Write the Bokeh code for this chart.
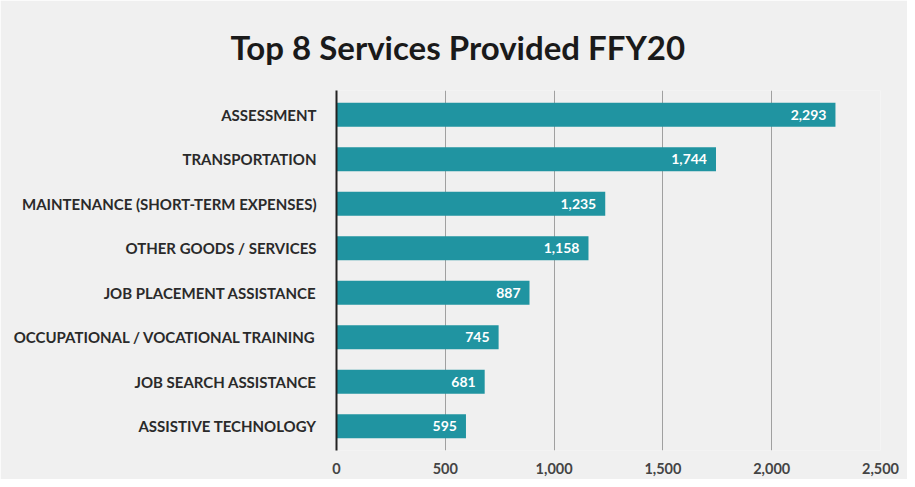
from bokeh.plotting import figure
from bokeh.models import ColumnDataSource, NumeralTickFormatter, FixedTicker, Range1d
from bokeh.embed import file_html
from bokeh.resources import INLINE
from bokeh.core.properties import value

categories = [
    "ASSESSMENT",
    "TRANSPORTATION",
    "MAINTENANCE (SHORT-TERM EXPENSES)",
    "OTHER GOODS / SERVICES",
    "JOB PLACEMENT ASSISTANCE",
    "OCCUPATIONAL / VOCATIONAL TRAINING",
    "JOB SEARCH ASSISTANCE",
    "ASSISTIVE TECHNOLOGY",
]
counts = [2293, 1744, 1235, 1158, 887, 745, 681, 595]
x_ticks = [0, 500, 1000, 1500, 2000, 2500]

labels = [f"{v:,}" for v in counts]
source = ColumnDataSource(dict(cat=categories, val=counts, lab=labels))

BG = "#f0f0f0"
FONT = "Lato"

p = figure(
    width=907, height=479,
    y_range=list(reversed(categories)),
    x_range=Range1d(0, 2500),
    output_backend="svg", toolbar_location=None,
    title="Top 8 Services Provided FFY20",
    min_border_left=336, min_border_right=27, min_border_top=90, min_border_bottom=29,
)
p.background_fill_color = BG
p.border_fill_color = BG
p.outline_line_color = None

p.title.align = "left"
p.title.text_font = FONT
p.title.text_font_size = "33px"
p.title.text_font_style = "bold"
p.title.text_color = "#1a1a1a"
p.title.offset = -106
p.title.standoff = 48

p.hbar(y="cat", right="val", left=0, height=0.54, source=source,
       fill_color="#2094a1", line_color=None)

p.text(x="val", y="cat", text="lab", source=source, x_offset=-9,
       text_align="right", text_baseline="middle",
       text_color="white", text_font=value(FONT), text_font_style="bold",
       text_font_size="14px")

p.xaxis.ticker = FixedTicker(ticks=x_ticks)
p.xaxis.formatter = NumeralTickFormatter(format="0,0")
p.xaxis.axis_line_color = None
p.xaxis.major_tick_line_color = None
p.xaxis.minor_tick_line_color = None
p.xaxis.major_label_text_font = FONT
p.xaxis.major_label_text_font_style = "bold"
p.xaxis.major_label_text_font_size = "14.5px"
p.xaxis.major_label_text_color = "#444444"
p.xaxis.major_label_standoff = 6

p.yaxis.axis_line_color = "#222222"
p.yaxis.axis_line_width = 2
p.yaxis.major_tick_line_color = None
p.yaxis.minor_tick_line_color = None
p.yaxis.major_label_text_font = FONT
p.yaxis.major_label_text_font_style = "bold"
p.yaxis.major_label_text_font_size = "15px"
p.yaxis.major_label_text_color = "#2a2a2a"
p.yaxis.major_label_standoff = 14

p.ygrid.grid_line_color = None
p.xgrid.grid_line_color = "#a0a0a0"
p.xgrid.grid_line_width = 1

p.y_range.range_padding = 0.012

open("out.html", "w").write(file_html(p, INLINE))
